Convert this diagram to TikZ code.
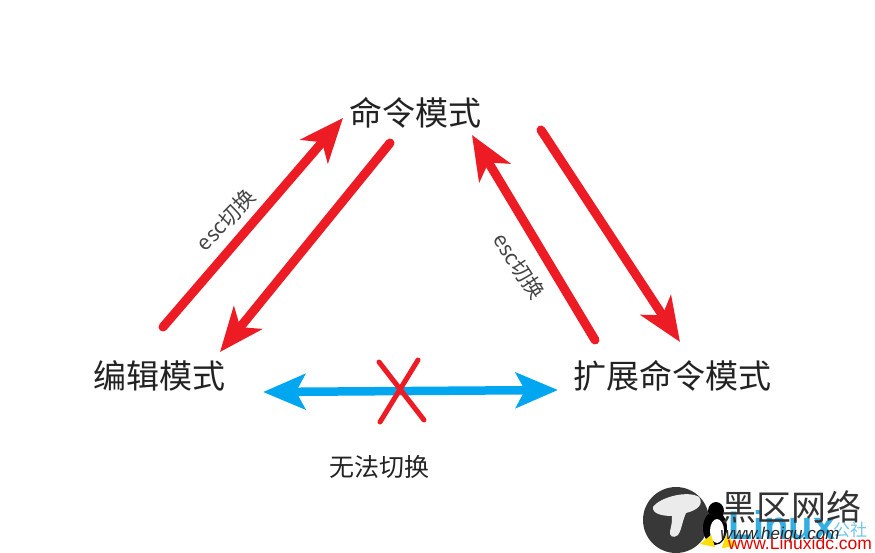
\documentclass[tikz,border=0pt]{standalone}
\usepackage{fontspec}
\setmainfont{Noto Sans CJK SC}
\newfontfamily\wmfont{Liberation Sans}
\usetikzlibrary{arrows.meta}
\definecolor{redline}{HTML}{ED1C24}
\definecolor{blueline}{HTML}{00A6EF}
\definecolor{textgray}{HTML}{222222}
\definecolor{linuxblue}{HTML}{35AEE2}
\tikzset{
  mode/.style={inner sep=0pt,text=textgray,font=\fontsize{33}{36}\selectfont},
  small/.style={inner sep=0pt,text=textgray!85,font=\fontsize{21}{22}\selectfont},
  redarrow/.style={draw=redline,line width=9pt,line cap=round,-{Stealth[length=44pt,width=36pt,inset=12pt]}},
  bluearrow/.style={draw=blueline,line width=8.5pt,{Stealth[length=42pt,width=35pt,inset=9pt]}-{Stealth[length=42pt,width=35pt,inset=9pt]}},
  cross/.style={draw=redline,line width=5pt,line cap=round},
  wm/.style={inner sep=0pt}
}
\begin{document}
\begin{tikzpicture}[x=1pt,y=-1pt]
\useasboundingbox (0,0) rectangle (875,552);
\node[mode] (vcmd) at (415,113) {命令模式};
\node[mode] (vedit) at (159,376) {编辑模式};
\node[mode] (vext) at (672,376) {扩展命令模式};
\node[small,rotate=46] (vesca) at (226,220) {esc切换};
\node[small,rotate=-57] (vescb) at (519,266) {esc切换};
\node[inner sep=0pt,text=textgray,font=\fontsize{25}{27}\selectfont] (vno) at (379,467) {无法切换};
\coordinate (vxa) at (379,362);
\coordinate (vxb) at (424,420);
\coordinate (vxc) at (418,360);
\coordinate (vxd) at (380,422);
\draw [redarrow] ([shift={(4,-49)}]vedit.center) -- ([shift={(-72,5)}]vcmd.center);
\draw [redarrow] ([shift={(-25,30)}]vcmd.center) -- ([shift={(61,-24)}]vedit.center);
\draw [redarrow] ([shift={(-77,-36)}]vext.center) -- ([shift={(57,22)}]vcmd.center);
\draw [redarrow] ([shift={(126,17)}]vcmd.center) -- ([shift={(8,-34)}]vext.center);
\draw [bluearrow] ([shift={(104,16)}]vedit.center) -- ([shift={(-114,14)}]vext.center);
\draw [cross] (vxa) -- (vxb);
\draw [cross] (vxc) -- (vxd);
\fill [black!78] (676,520) circle (33);
\fill [white!92!black] (653,507) .. controls (660,497) and (688,490) .. (699,497) .. controls (704,504) and (698,510) .. (686,513) .. controls (682,522) and (681,532) .. (678,535) .. controls (673,539) and (669,536) .. (670,531) .. controls (672,524) and (672,520) .. (672,516) .. controls (663,516) and (652,514) .. (653,507) -- cycle;
\fill [black] (716,511) ellipse (8 and 9);
\fill [black] (715,528) ellipse (12 and 17);
\fill [white] (717,531) ellipse (7 and 12);
\fill [yellow!80!orange] (700,544) -- (711,535) -- (715,547) -- cycle;
\fill [yellow!80!orange] (722,548) -- (726,535) -- (737,546) -- cycle;
\node[wm,text=linuxblue,font=\wmfont\bfseries\fontsize{40}{40}\selectfont] (vlinux) at (782,525) {Linux};
\node[wm,text=linuxblue!70,font=\fontsize{17}{18}\selectfont] (vshe) at (850,530) {公社};
\node[wm,text=black!80,font=\fontsize{35}{36}\selectfont] (vhei) at (791,507) {黑区网络};
\node[wm,text=black!85,font=\wmfont\itshape\fontsize{17}{18}\selectfont] (vheiurl) at (780,535) {www.heiqu.com};
\node[wm,text=red!90!black,font=\wmfont\fontsize{17.5}{18}\selectfont] (vurl) at (800,543) {www.Linuxidc.com};
\end{tikzpicture}
\end{document}
